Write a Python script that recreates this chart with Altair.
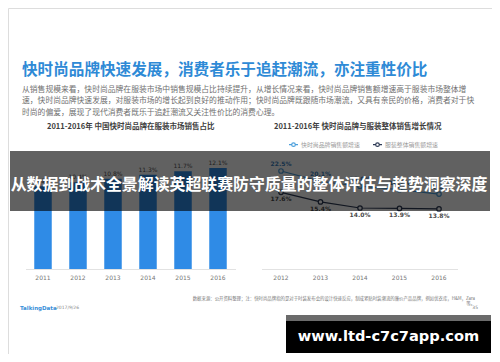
import altair as alt
import pandas as pd

# ---------------- data ----------------
bar_years = ["2011", "2012", "2013", "2014", "2015", "2016"]
bar_share = [9.9, 10.4, 10.8, 11.3, 11.7, 12.1]
bar_labels = ["9.9%", "10.4%", "10.8%", "11.3%", "11.7%", "12.1%"]

line_years = ["2012", "2013", "2014", "2015", "2016"]
fast_growth = [22.5, 20.1, 19.0, 18.2, 17.2]
apparel_growth = [17.6, 15.4, 14.0, 13.9, 13.8]
series_names = ["快时尚品牌销售额增速", "服装整体销售额增速"]
series_colors = ["#4da0dc", "#2d3a55"]

title_text = "快时尚品牌快速发展，消费者乐于追赶潮流，亦注重性价比"
para_lines = [
    "从销售规模来看，快时尚品牌在服装市场中销售规模占比持续提升，从增长情况来看，快时尚品牌销售额增速高于服装市场整体增",
    "速，快时尚品牌快速发展，对服装市场的增长起到良好的推动作用；快时尚品牌既跟随市场潮流，又具有亲民的价格，消费者对于快",
    "时尚的偏爱，展现了现代消费者既乐于追赶潮流又关注性价比的消费心理。",
]
left_sub = "2011-2016年 中国快时尚品牌在服装市场销售占比"
right_sub = "2011-2016年 快时尚品牌与服装整体销售增长情况"
banner_text = "从数据到战术全景解读英超联赛防守质量的整体评估与趋势洞察深度"
source_text = "数据来源：公开资料整理；注：快时尚品牌指的是对于时装发布会的设计快速反应，制成紧贴时装潮流的廉价产品品牌，例如优衣库，H&M，Zara"
brand_text = "TalkingData"
date_text = "2017/9/26"
page_text = "35"
watermark_text = "www.ltd-c7c7app.com"

CJK = "Noto Sans CJK SC"

# ---------------- tables ----------------
bar_df = pd.DataFrame({"byear": bar_years, "share": bar_share, "lab": bar_labels})
rows = []
for name, vals in zip(series_names, [fast_growth, apparel_growth]):
    for y, v in zip(line_years, vals):
        rows.append({"lyear": y, "series": name, "growth": v, "lab": f"{v:.1f}%"})
line_df = pd.DataFrame(rows)
one = pd.DataFrame({"k": [0]})

# ---------------- bar panel ----------------
bx = alt.X("byear:N", scale=alt.Scale(range=[17.5, 227.5], paddingInner=0.5, paddingOuter=0.25), axis=None)
by = alt.Y("share:Q", scale=alt.Scale(domain=[0, 15], range=[261, 135.75]), axis=None)

bars = alt.Chart(bar_df).mark_bar(color="#2f8be6").encode(x=bx, y=by)
bar_txt = alt.Chart(bar_df).mark_text(baseline="bottom", dy=-2, fontSize=6, color="#555555", font="DejaVu Sans").encode(
    x=bx, y=by, text="lab:N")
bar_yr = alt.Chart(bar_df).mark_text(baseline="middle", fontSize=6, color="#777777", font="DejaVu Sans").encode(
    x=bx, y=alt.value(270), text="byear:N")
bar_base = alt.Chart(one).mark_rule(color="#e2e2e2", strokeWidth=1).encode(
    x=alt.value(18), x2=alt.value(228), y=alt.value(261.5))
bar_panel = alt.layer(bar_base, bars, bar_txt, bar_yr)

# ---------------- line panel ----------------
lx = alt.X("lyear:N", scale=alt.Scale(type="point", range=[273, 431], padding=0), axis=None)
ly = alt.Y("growth:Q", scale=alt.Scale(domain=[0, 25], range=[261, 152.1]), axis=None)
lcolor = alt.Color(
    "series:N",
    scale=alt.Scale(domain=series_names, range=series_colors),
    legend=alt.Legend(
        orient="none", legendX=280, legendY=131, direction="horizontal", title=None,
        labelFontSize=5.9, labelColor="#9a9a9a", labelFont=CJK,
        symbolType="M-1,0L-0.4,0M0.4,0L1,0M-0.4,0A0.4,0.4,0,1,1,0.4,0A0.4,0.4,0,1,1,-0.4,0",
        symbolSize=81, symbolStrokeWidth=1.2, symbolFillColor="white",
        labelOffset=2, columnPadding=10, padding=0,
    ),
)
lines = alt.Chart(line_df).mark_line(strokeWidth=1.2).encode(x=lx, y=ly, color=lcolor)
pts = alt.Chart(line_df).mark_point(shape="circle", filled=False, fill="white", fillOpacity=1, opacity=1,
                                    size=20, strokeWidth=1.2).encode(x=lx, y=ly, color=lcolor)
fast_lab = alt.Chart(line_df).transform_filter(alt.datum.series == series_names[0]).mark_text(
    baseline="bottom", dy=-4, fontSize=6, fontWeight="bold", color="#3a7fc0", font="DejaVu Sans").encode(
    x=lx, y=ly, text="lab:N")
app_lab = alt.Chart(line_df).transform_filter(alt.datum.series == series_names[1]).mark_text(
    baseline="top", dy=4, fontSize=6, fontWeight="bold", color="#4a4a4a", font="DejaVu Sans").encode(
    x=lx, y=ly, text="lab:N")
line_yr = alt.Chart(pd.DataFrame({"lyear": line_years})).mark_text(
    baseline="middle", fontSize=6, color="#777777", font="DejaVu Sans").encode(
    x=lx, y=alt.value(270), text="lyear:N")
line_base = alt.Chart(one).mark_rule(color="#e2e2e2", strokeWidth=1).encode(
    x=alt.value(254), x2=alt.value(450), y=alt.value(261.5))
line_panel = alt.layer(line_base, lines, pts, fast_lab, app_lab, line_yr)

# ---------------- slide texts ----------------
def txt(text, x, y, size, color, weight="normal", align="left", font=CJK, baseline="middle", lh=None):
    kw = dict(align=align, baseline=baseline, fontSize=size, color=color, fontWeight=weight, font=font, text=text)
    if lh is not None:
        kw["lineHeight"] = lh
    return alt.Chart(one).mark_text(**kw).encode(x=alt.value(x), y=alt.value(y))

title = txt(title_text, 14, 62, 15.6, "#2e8ad6", "bold")
para = txt(para_lines, 14, 82, 7.8, "#707070", lh=11.3)
sub_l = txt(left_sub, 39, 119.3, 7.5, "#404040", "bold")
sub_r = txt(right_sub, 266, 119.3, 7.5, "#404040", "bold")

banner = alt.Chart(one).mark_rect(color="black", opacity=0.62).encode(
    x=alt.value(2), x2=alt.value(482), y=alt.value(143), y2=alt.value(203))
banner_t = txt(banner_text, 241, 177, 15.9, "white", "bold", align="center")

brand = txt(brand_text, 12, 300, 5.5, "#3a8fd8", "bold", font="DejaVu Sans")
date = txt(date_text, 48, 300, 4.5, "#888888", font="DejaVu Sans")
source = txt(source_text, 467, 291, 4.4, "#777777", align="right")
source2 = txt("等。", 467, 296, 4.4, "#777777", align="right")
page = txt(page_text, 470, 300, 4.5, "#777777", align="right", font="DejaVu Sans")

wm_bar = alt.Chart(one).mark_rect(color="#6b6b6b").encode(
    x=alt.value(278), x2=alt.value(483), y=alt.value(307), y2=alt.value(313))
wm_box = alt.Chart(one).mark_rect(color="black").encode(
    x=alt.value(278), x2=alt.value(483), y=alt.value(313), y2=alt.value(345))
wm_t = txt(watermark_text, 380.5, 329, 14.6, "white", "bold", align="center", font="DejaVu Sans")

chart = alt.layer(
    title, para, sub_l, sub_r,
    bar_panel, line_panel,
    banner, banner_t,
    brand, date, source, source2, page,
    wm_bar, wm_box, wm_t,
).resolve_scale(x="independent", y="independent").properties(
    width=484, height=346, autosize=alt.AutoSizeParams(type="none"), padding=0
).configure_view(stroke=None).configure(background="white")

chart.save("out.html", embed_options={"renderer": "svg", "actions": False})
